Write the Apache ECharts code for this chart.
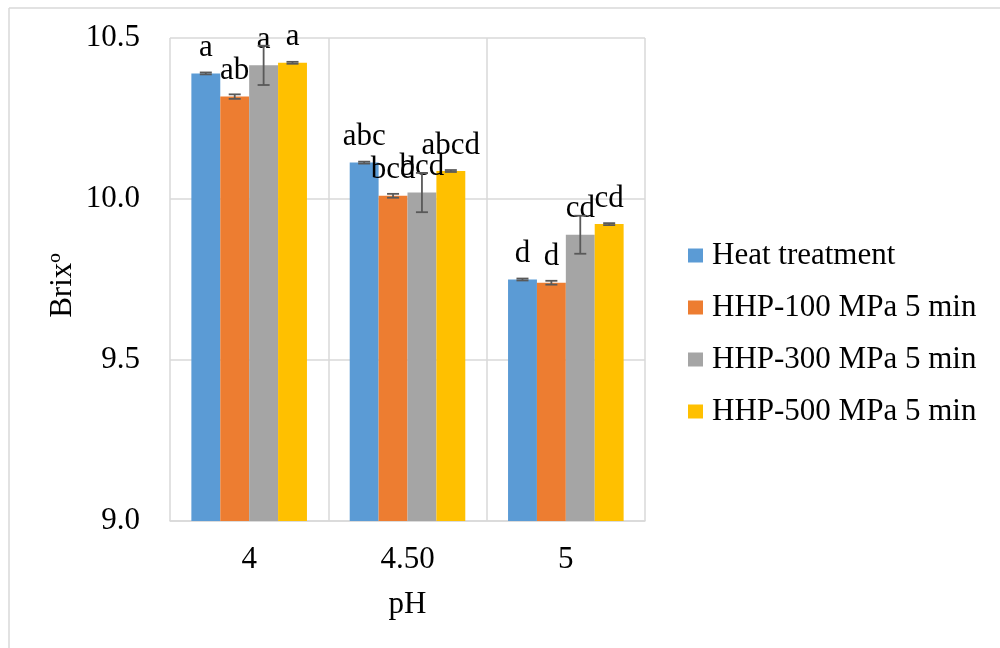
<!DOCTYPE html>
<html>
<head>
<meta charset="utf-8">
<script src="https://cdn.jsdelivr.net/npm/echarts@6/dist/echarts.min.js"></script>
<style>
  html, body { margin: 0; padding: 0; background: #fff; }
  #chart { width: 1000px; height: 648px; }
</style>
</head>
<body>
<div id="chart"></div>
<script>
// pH levels on the x axis
const categories = ['4', '4.50', '5'];
const seriesNames = ['Heat treatment', 'HHP-100 MPa 5 min', 'HHP-300 MPa 5 min', 'HHP-500 MPa 5 min'];

// Mean Brix values per treatment
const heatValues = [10.39, 10.113, 9.75];
const hhp100Values = [10.318, 10.01, 9.74];
const hhp300Values = [10.415, 10.02, 9.889];
const hhp500Values = [10.423, 10.087, 9.922];

// Standard deviations (error bars)
const heatErr = [0.003, 0.003, 0.003];
const hhp100Err = [0.007, 0.006, 0.006];
const hhp300Err = [0.061, 0.061, 0.059];
const hhp500Err = [0.003, 0.003, 0.003];

// Significance letters
const heatLetters = ['a', 'abc', 'd'];
const hhp100Letters = ['ab', 'bcd', 'd'];
const hhp300Letters = ['a', 'bcd', 'cd'];
const hhp500Letters = ['a', 'abcd', 'cd'];

const yTicks = [9.0, 9.5, 10.0, 10.5];

const colors = ['#5B9BD5', '#ED7D31', '#A5A5A5', '#FFC000'];
const values = [heatValues, hhp100Values, hhp300Values, hhp500Values];
const errors = [heatErr, hhp100Err, hhp300Err, hhp500Err];
const letters = [heatLetters, hhp100Letters, hhp300Letters, hhp500Letters];

const FONT = '"Liberation Serif", "Times New Roman", serif';
const FS = 31;
const CAT_GAP = 0.27;

const barSeries = seriesNames.map((name, s) => ({
  name: name,
  type: 'bar',
  barGap: '0%',
  barCategoryGap: (CAT_GAP * 100) + '%',
  itemStyle: { color: colors[s] },
  data: values[s],
  z: 2,
  label: {
    show: true,
    position: 'top',
    distance: 10,
    fontFamily: FONT,
    fontSize: FS,
    color: '#000',
    formatter: p => letters[s][p.dataIndex]
  }
}));

// Error bars drawn over each bar of the group
const errorSeries = seriesNames.map((name, s) => ({
  type: 'custom',
  name: name + ' error',
  z: 5,
  data: values[s].map((v, i) => [i, v - errors[s][i], v + errors[s][i]]),
  renderItem: function (params, api) {
    const idx = api.value(0);
    const band = api.size([1, 0])[0];
    const barW = band * (1 - CAT_GAP) / 4;
    const offset = (s - 1.5) * barW;
    const low = api.coord([idx, api.value(1)]);
    const high = api.coord([idx, api.value(2)]);
    const x = low[0] + offset;
    const cap = 6;
    const style = { stroke: '#595959', lineWidth: 1.8, fill: null };
    return {
      type: 'group',
      children: [
        { type: 'line', shape: { x1: x, y1: high[1], x2: x, y2: low[1] }, style: style },
        { type: 'line', shape: { x1: x - cap, y1: high[1], x2: x + cap, y2: high[1] }, style: style },
        { type: 'line', shape: { x1: x - cap, y1: low[1], x2: x + cap, y2: low[1] }, style: style }
      ]
    };
  },
  tooltip: { show: false }
}));

const chart = echarts.init(document.getElementById('chart'), null, { renderer: 'canvas' });
chart.setOption({
  backgroundColor: '#ffffff',
  animation: false,
  textStyle: { fontFamily: FONT },
  graphic: [
    { type: 'line', shape: { x1: 9, y1: 8, x2: 1000, y2: 8 }, style: { stroke: '#d9d9d9', lineWidth: 1.5 } },
    { type: 'line', shape: { x1: 9, y1: 8, x2: 9, y2: 648 }, style: { stroke: '#d9d9d9', lineWidth: 1.5 } }
  ],
  grid: { left: 170, right: 355, top: 38, bottom: 127 },
  legend: {
    orient: 'vertical',
    left: 683,
    top: 235,
    itemWidth: 15,
    itemHeight: 14,
    itemGap: 21,
    icon: 'rect',
    data: seriesNames,
    textStyle: { fontFamily: FONT, fontSize: FS, color: '#000', padding: [0, 0, 0, 4] }
  },
  xAxis: {
    type: 'category',
    data: categories,
    name: 'pH',
    nameLocation: 'middle',
    nameGap: 68,
    nameTextStyle: { fontFamily: FONT, fontSize: FS, color: '#000' },
    axisLine: { show: true, lineStyle: { color: '#d9d9d9', width: 1.5 } },
    axisTick: { show: false },
    axisLabel: { fontFamily: FONT, fontSize: FS, color: '#000', margin: 23 },
    splitLine: { show: true, lineStyle: { color: '#d9d9d9', width: 1.5 } }
  },
  yAxis: {
    type: 'value',
    min: 9.0,
    max: 10.5,
    interval: 0.5,
    name: 'Brixº',
    nameLocation: 'middle',
    nameGap: 92,
    nameRotate: 90,
    nameTextStyle: { fontFamily: FONT, fontSize: FS, color: '#000', padding: [0, 12, 0, 0] },
    axisLine: { show: false },
    axisTick: { show: false },
    axisLabel: {
      fontFamily: FONT, fontSize: FS, color: '#000', margin: 30,
      padding: [5, 0, 0, 0],
      formatter: v => {
        const t = yTicks.find(k => Math.abs(k - v) < 1e-9);
        return (t !== undefined ? t : v).toFixed(1);
      }
    },
    splitLine: { show: true, lineStyle: { color: '#d9d9d9', width: 1.5 } }
  },
  series: barSeries.concat(errorSeries)
});
</script>
</body>
</html>
